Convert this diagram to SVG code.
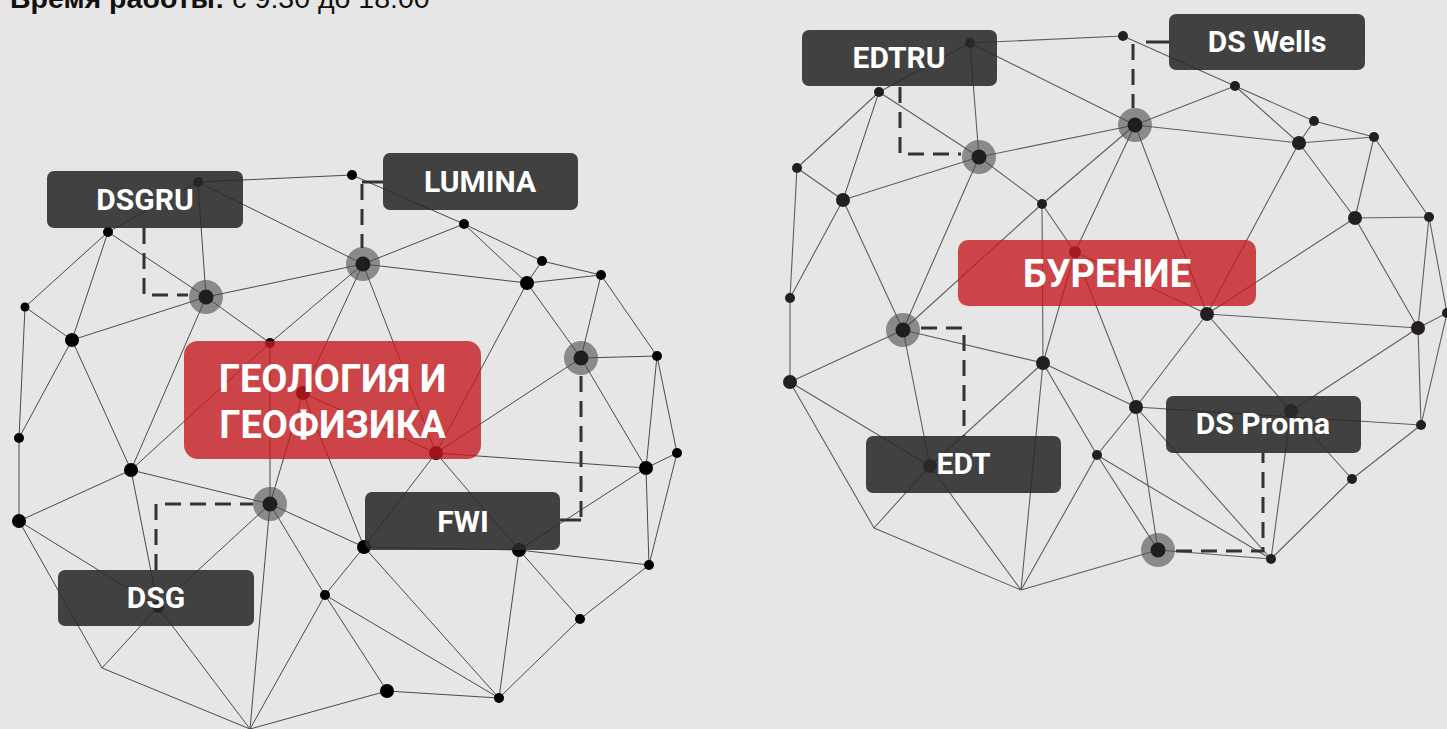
<svg xmlns="http://www.w3.org/2000/svg" width="1447" height="729" viewBox="0 0 1447 729">
<style>
.bg{fill:#e6e6e6}
.mesh{stroke:#4a4a4a;stroke-width:1;fill:none}
.mesh2{stroke:#5e5e5e;stroke-width:1.1;fill:none}
.dash{stroke:#333;stroke-width:3;fill:none;stroke-dasharray:16 9}
.solid{stroke:#333;stroke-width:3;fill:none}
.halo{fill:#4d4d4d;opacity:0.6}
.hub{fill:#1e1e1e}
.dot{fill:#000}
.dot2{fill:#231f20}
.box{fill:#2a2a2a;opacity:0.88}
.red{fill:#c61c20;opacity:0.8}
.lbl{font-family:Roboto,'Liberation Sans',sans-serif;font-weight:700;font-size:30px;fill:#fff;text-anchor:middle}
.big{font-size:38px}
.hdr{font-family:'Liberation Sans',Arial,sans-serif;font-size:28.5px;fill:#111}
</style>
<rect class="bg" x="0" y="0" width="1447" height="729"/>
<text class="hdr" x="10" y="8"><tspan font-weight="700">Время работы:</tspan> с 9:30 до 18:00</text>

<g id="connectors">
<path class="mesh" d="M198 182L352 175M198 182L108 232M198 182L206 297M198 182L363 264M108 232L25 307M108 232L72 340M108 232L206 297M25 307L72 340M25 307L19 438M72 340L206 297M72 340L19 438M72 340L131 470M206 297L363 264M206 297L270 343M206 297L131 470M352 175L464 224M363 264L464 224M363 264L527 283M363 264L270 343M363 264L303 393M363 264L436 453M464 224L527 283M464 224L542 261M542 261L601 275M542 261L527 283M527 283L601 275M527 283L581 358M527 283L436 453M601 275L581 358M601 275L657 356M581 358L657 356M581 358L436 453M581 358L646 468M657 356L646 468M657 356L677 453M19 438L19 521M131 470L270 343M131 470L19 521M131 470L270 504M131 470L158 607M270 343L270 504M303 393L270 504M303 393L436 453M303 393L364 547M436 453L646 468M436 453L364 547M436 453L519 550M646 468L677 453M646 468L519 550M646 468L649 565M677 453L649 565M19 521L102 668M19 521L158 607M270 504L364 547M270 504L325 595M270 504L250 729M270 504L158 607M158 607L102 668M158 607L250 729M102 668L250 729M325 595L364 547M325 595L387 691M325 595L499 698M325 595L250 729M387 691L250 729M387 691L499 698M364 547L499 698M364 547L519 550M519 550L499 698M519 550L580 619M519 550L649 565M580 619L499 698M580 619L649 565"/>
<path class="mesh2" d="M970 43L1123 36M970 43L879 92M970 43L979 157M970 43L1135 125M879 92L797 168M879 92L843 200M879 92L979 157M797 168L843 200M797 168L790 298M843 200L979 157M843 200L790 298M843 200L903 330M979 157L1135 125M979 157L1042 204M979 157L903 330M1135 125L1042 204M1135 125L1075 252M1135 125L1235 86M1135 125L1299 143M1135 125L1207 314M1123 36L1235 86M1235 86L1299 143M1235 86L1314 121M1314 121L1299 143M1314 121L1374 137M1299 143L1374 137M1299 143L1355 218M1299 143L1207 314M1374 137L1355 218M1374 137L1429 217M1355 218L1429 217M1355 218L1418 328M1355 218L1207 314M1429 217L1418 328M1429 217L1447 313M1418 328L1447 313M1418 328L1421 425M1418 328L1291 411M1447 313L1421 425M1207 314L1418 328M1207 314L1136 407M1207 314L1291 411M1075 252L1207 314M1042 204L903 330M1042 204L1043 363M1042 204L1075 252M1075 252L1043 363M1075 252L1136 407M790 298L790 382M790 382L903 330M790 382L930 466M790 382L874 528M903 330L1043 363M903 330L930 466M1043 363L930 466M1043 363L1021 590M1043 363L1097 455M1043 363L1136 407M930 466L874 528M930 466L1021 590M874 528L1021 590M1097 455L1021 590M1097 455L1136 407M1097 455L1158 550M1097 455L1271 559M1021 590L1158 550M1136 407L1421 425M1136 407L1271 559M1136 407L1158 550M1291 411L1352 479M1291 411L1271 559M1352 479L1421 425M1352 479L1271 559M1158 550L1271 559"/>
</g>

<g id="mesh-dots">
<circle class="halo" cx="206" cy="297" r="17"/><circle class="hub" cx="206" cy="297" r="7.5"/>
<circle class="halo" cx="363" cy="264" r="17"/><circle class="hub" cx="363" cy="264" r="7.5"/>
<circle class="halo" cx="581" cy="358" r="17"/><circle class="hub" cx="581" cy="358" r="7.5"/>
<circle class="halo" cx="270" cy="504" r="17"/><circle class="hub" cx="270" cy="504" r="7.5"/>
<circle class="dot" cx="198" cy="182" r="5"/>
<circle class="dot" cx="352" cy="175" r="5"/>
<circle class="dot" cx="108" cy="232" r="5"/>
<circle class="dot" cx="464" cy="224" r="5"/>
<circle class="dot" cx="25" cy="307" r="4.5"/>
<circle class="dot" cx="72" cy="340" r="7"/>
<circle class="dot" cx="270" cy="343" r="5"/>
<circle class="dot" cx="303" cy="393" r="7"/>
<circle class="dot" cx="527" cy="283" r="7"/>
<circle class="dot" cx="542" cy="261" r="5"/>
<circle class="dot" cx="601" cy="275" r="5"/>
<circle class="dot" cx="657" cy="356" r="5"/>
<circle class="dot" cx="19" cy="438" r="5"/>
<circle class="dot" cx="131" cy="470" r="7"/>
<circle class="dot" cx="436" cy="453" r="7"/>
<circle class="dot" cx="646" cy="468" r="7"/>
<circle class="dot" cx="677" cy="453" r="5"/>
<circle class="dot" cx="19" cy="521" r="7"/>
<circle class="dot" cx="364" cy="547" r="7"/>
<circle class="dot" cx="519" cy="550" r="7"/>
<circle class="dot" cx="649" cy="565" r="5"/>
<circle class="dot" cx="158" cy="607" r="6"/>
<circle class="dot" cx="325" cy="595" r="5"/>
<circle class="dot" cx="580" cy="619" r="5"/>
<circle class="dot" cx="387" cy="691" r="7"/>
<circle class="dot" cx="499" cy="698" r="5"/>

<circle class="halo" cx="979" cy="157" r="17"/><circle class="hub" cx="979" cy="157" r="7.5"/>
<circle class="halo" cx="1135" cy="125" r="17"/><circle class="hub" cx="1135" cy="125" r="7.5"/>
<circle class="halo" cx="903" cy="330" r="17"/><circle class="hub" cx="903" cy="330" r="7.5"/>
<circle class="halo" cx="1158" cy="550" r="17"/><circle class="hub" cx="1158" cy="550" r="7.5"/>
<circle class="dot2" cx="970" cy="43" r="5"/>
<circle class="dot2" cx="1123" cy="36" r="5"/>
<circle class="dot2" cx="879" cy="92" r="5"/>
<circle class="dot2" cx="797" cy="168" r="5"/>
<circle class="dot2" cx="843" cy="200" r="7"/>
<circle class="dot2" cx="1042" cy="204" r="5"/>
<circle class="dot2" cx="1235" cy="86" r="5"/>
<circle class="dot2" cx="1314" cy="121" r="5"/>
<circle class="dot2" cx="1299" cy="143" r="7"/>
<circle class="dot2" cx="1374" cy="137" r="5"/>
<circle class="dot2" cx="1355" cy="218" r="7"/>
<circle class="dot2" cx="1429" cy="217" r="5"/>
<circle class="dot2" cx="790" cy="298" r="5"/>
<circle class="dot2" cx="1075" cy="252" r="6"/>
<circle class="dot2" cx="1043" cy="363" r="7"/>
<circle class="dot2" cx="790" cy="382" r="7"/>
<circle class="dot2" cx="1207" cy="314" r="7"/>
<circle class="dot2" cx="1418" cy="328" r="7"/>
<circle class="dot2" cx="1447" cy="313" r="5"/>
<circle class="dot2" cx="930" cy="466" r="7"/>
<circle class="dot2" cx="1097" cy="455" r="5"/>
<circle class="dot2" cx="1136" cy="407" r="7"/>
<circle class="dot2" cx="1291" cy="411" r="7"/>
<circle class="dot2" cx="1421" cy="425" r="5"/>
<circle class="dot2" cx="1352" cy="479" r="5"/>
<circle class="dot2" cx="1271" cy="559" r="5"/>
</g>

<g id="dashed-links">
<path class="dash" d="M144 228V295H188"/>
<path class="solid" d="M383 182H362"/><path class="dash" d="M362 184V248"/>
<path class="dash" d="M581 376V520"/><path class="solid" d="M581 520H560"/>
<path class="dash" d="M156 570V504H253"/>
<path class="dash" d="M900 87V154H961"/>
<path class="solid" d="M1169 42H1146"/><path class="dash" d="M1133 44V108"/>
<path class="dash" d="M921 328H964V436"/>
<path class="dash" d="M1176 551H1263V453"/>
</g>

<g id="node-geologia">
<rect class="red" x="184" y="341" width="297" height="118" rx="14"/>
<text class="lbl big" x="332.5" y="392">ГЕОЛОГИЯ И</text>
<text class="lbl big" x="332.5" y="438">ГЕОФИЗИКА</text>
</g>
<g id="node-burenie">
<rect class="red" x="958" y="240" width="298" height="66" rx="10"/>
<text class="lbl big" x="1107" y="287">БУРЕНИЕ</text>
</g>
<g id="node-dsgru"><rect class="box" x="47" y="171" width="196" height="57" rx="7"/><text class="lbl" x="145" y="210">DSGRU</text></g>
<g id="node-lumina"><rect class="box" x="383" y="153" width="195" height="57" rx="7"/><text class="lbl" x="480" y="192">LUMINA</text></g>
<g id="node-fwi"><rect class="box" x="365" y="492" width="195" height="58" rx="7"/><text class="lbl" x="463" y="532">FWI</text></g>
<g id="node-dsg"><rect class="box" x="58" y="570" width="196" height="56" rx="7"/><text class="lbl" x="156" y="608">DSG</text></g>
<g id="node-edtru"><rect class="box" x="802" y="30" width="195" height="56" rx="7"/><text class="lbl" x="899" y="68">EDTRU</text></g>
<g id="node-dswells"><rect class="box" x="1169" y="14" width="196" height="56" rx="7"/><text class="lbl" x="1267" y="52">DS Wells</text></g>
<g id="node-edt"><rect class="box" x="866" y="436" width="195" height="57" rx="7"/><text class="lbl" x="963.5" y="474">EDT</text></g>
<g id="node-dsproma"><rect class="box" x="1166" y="396" width="195" height="57" rx="7"/><text class="lbl" x="1263" y="434">DS Proma</text></g>
</svg>
